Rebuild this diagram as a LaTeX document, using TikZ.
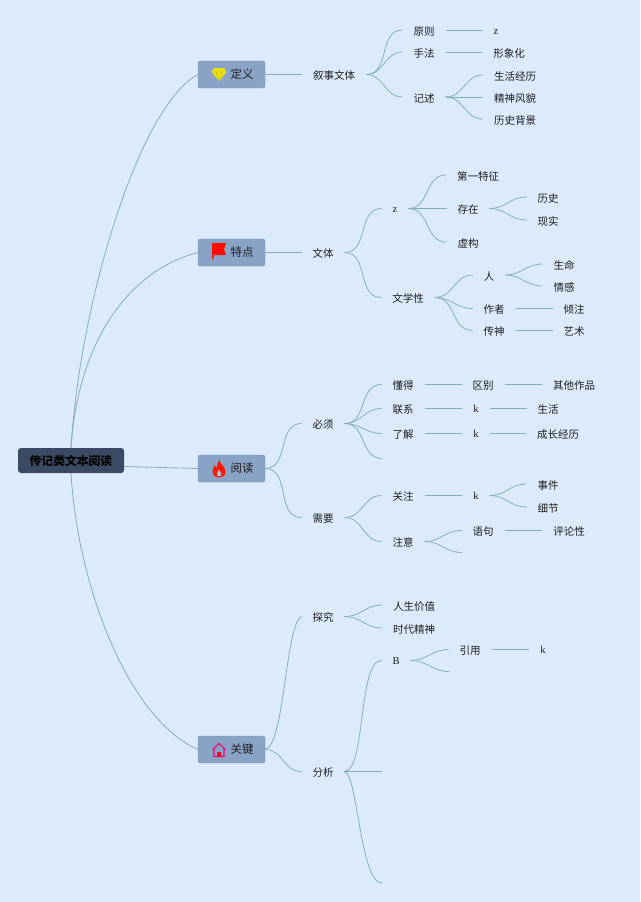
\documentclass[tikz,border=0pt]{standalone}
\usepackage{fontspec}
\setmainfont{Liberation Serif}
\newfontfamily\cjk{Noto Sans CJK SC}
\definecolor{bgc}{HTML}{DCEBFC}
\definecolor{linec}{HTML}{85ADBA}
\definecolor{topc}{HTML}{88A3C5}
\definecolor{rootc}{HTML}{3B4A63}
\definecolor{txt}{HTML}{1E1E1E}
\tikzset{
  conn/.style={draw=linec,line width=0.8pt},
  leaf/.style={inner xsep=11pt,inner ysep=0pt,outer sep=0pt,text=txt,text height=11pt,text depth=0.8pt,font=\cjk\fontsize{10.5}{12}\selectfont,anchor=center},
  latin/.style={inner xsep=11pt,inner ysep=0pt,outer sep=0pt,text=txt,text height=8pt,text depth=0pt,font=\fontsize{10.5}{12}\selectfont,anchor=center},
  topic/.style={rectangle,rounded corners=2pt,fill=topc,draw=topc!92!black,line width=0.3pt,minimum width=67pt,minimum height=27pt,inner sep=0pt,outer sep=0pt,text=txt,font=\cjk\fontsize{11.5}{13}\selectfont},
  rootbox/.style={rectangle,rounded corners=3pt,fill=rootc,minimum width=106pt,minimum height=25pt,inner sep=0pt,outer sep=0pt,text=black,font=\cjk\bfseries\fontsize{11.8}{13}\selectfont},
  fan/.style={conn,out=0,in=180,looseness=1.1}
}
\newcommand{\fanlink}[2]{\draw[fan] (#1.east) to (#2.west);}
\begin{document}
\begin{tikzpicture}[x=1pt,y=-1pt]
\useasboundingbox (0,0) rectangle (640,902);
\fill[bgc] (0,0) rectangle (640,902);
% root and topics
\node[rootbox] (root) at (71,460.5) {传记类文本阅读};
\node[topic] (t1) at (231.5,74.5) {\hspace{21pt}定义};
\node[topic] (t2) at (231.5,252.5) {\hspace{21pt}特点};
\node[topic] (t3) at (231.5,468.5) {\hspace{21pt}阅读};
\node[topic] (t4) at (231.5,749.5) {\hspace{21pt}关键};
% level 2
\node[leaf] (a) at (334,74.5) {叙事文体};
\node[leaf] (b) at (323,252.5) {文体};
\node[leaf] (c1) at (323,423.5) {必须};
\node[leaf] (c2) at (323,517.5) {需要};
\node[leaf] (d1) at (323,616.5) {探究};
\node[leaf] (d2) at (323,771.5) {分析};
% definition branch
\node[leaf] (a1) at (424,30) {原则};
\node[latin] (a1x) at (496,30) {z};
\node[leaf] (a2) at (424,52) {手法};
\node[leaf] (a2x) at (509,52) {形象化};
\node[leaf] (a3) at (424,97) {记述};
\node[leaf] (a31) at (515,75) {生活经历};
\node[leaf] (a32) at (515,97) {精神风貌};
\node[leaf] (a33) at (515,119) {历史背景};
% features branch
\node[latin] (b1) at (395,208.5) {z};
\node[leaf] (b11) at (478,175) {第一特征};
\node[leaf] (b12) at (468,208.5) {存在};
\node[leaf] (b121) at (548,197) {历史};
\node[leaf] (b122) at (548,220) {现实};
\node[leaf] (b13) at (468,242) {虚构};
\node[leaf] (b2) at (408,297.5) {文学性};
\node[leaf] (b21) at (489,275) {人};
\node[leaf] (b211) at (564,264) {生命};
\node[leaf] (b212) at (564,286) {情感};
\node[leaf] (b22) at (494,308.5) {作者};
\node[leaf] (b221) at (574,308.5) {倾注};
\node[leaf] (b23) at (494,330.5) {传神};
\node[leaf] (b231) at (574,330.5) {艺术};
% reading branch
\node[leaf] (c11) at (403,384.5) {懂得};
\node[leaf] (c111) at (483,384.5) {区别};
\node[leaf] (c112) at (574,384.5) {其他作品};
\node[leaf] (c12) at (403,408.5) {联系};
\node[latin] (c121) at (476,408.5) {k};
\node[leaf] (c122) at (548,408.5) {生活};
\node[leaf] (c13) at (403,433.5) {了解};
\node[latin] (c131) at (476,433.5) {k};
\node[leaf] (c132) at (558,433.5) {成长经历};
\coordinate (c14) at (382,458.5);
\node[leaf] (c21) at (403,495.5) {关注};
\node[latin] (c211) at (476,495.5) {k};
\node[leaf] (c2111) at (548,484) {事件};
\node[leaf] (c2112) at (548,507) {细节};
\node[leaf] (c22) at (403,541.5) {注意};
\node[leaf] (c221) at (483,530.5) {语句};
\node[leaf] (c222) at (569,530.5) {评论性};
\coordinate (c223) at (462,552.5);
% key branch
\node[leaf] (d11) at (414,605) {人生价值};
\node[leaf] (d12) at (414,628) {时代精神};
\node[latin] (d21) at (396,660.5) {B};
\node[leaf] (d211) at (470,649.5) {引用};
\node[latin] (d212) at (543,649.5) {k};
\coordinate (d213) at (449,671.5);
\coordinate (d22) at (382,771.5);
\coordinate (d23) at (382,883);
% root connectors
\draw[conn] (root.north) .. controls (80,300) and (140,105) .. (t1.west);
\draw[conn] (root.north) .. controls (78,340) and (130,270) .. (t2.west);
\draw[conn] ([yshift=-6pt]root.east) -- (t3.west);
\draw[conn] (root.south) .. controls (78,590) and (130,720) .. (t4.west);
\draw[conn] (t1.east) -- (a.west);
\draw[conn] (t2.east) -- (b.west);
\fanlink{t3}{c1} \fanlink{t3}{c2} \draw[conn] (t4.east) .. controls (285,745) and (285,625) .. (d1.west);
\fanlink{t4}{d2}
% level links
\fanlink{a}{a1} \fanlink{a}{a2} \fanlink{a}{a3}
\draw[conn] (a1.east) -- (a1x.west);
\draw[conn] (a2.east) -- (a2x.west);
\fanlink{a3}{a31} \draw[conn] (a3.east) -- (a32.west); \fanlink{a3}{a33}
\fanlink{b}{b1} \fanlink{b}{b2}
\fanlink{b1}{b11} \draw[conn] (b1.east) -- (b12.west); \fanlink{b1}{b13}
\fanlink{b12}{b121} \fanlink{b12}{b122}
\fanlink{b2}{b21} \fanlink{b2}{b22} \fanlink{b2}{b23}
\fanlink{b21}{b211} \fanlink{b21}{b212}
\draw[conn] (b22.east) -- (b221.west);
\draw[conn] (b23.east) -- (b231.west);
\fanlink{c1}{c11} \fanlink{c1}{c12} \fanlink{c1}{c13}
\draw[fan] (c1.east) to (c14);
\draw[conn] (c11.east) -- (c111.west);
\draw[conn] (c111.east) -- (c112.west);
\draw[conn] (c12.east) -- (c121.west);
\draw[conn] (c121.east) -- (c122.west);
\draw[conn] (c13.east) -- (c131.west);
\draw[conn] (c131.east) -- (c132.west);
\fanlink{c2}{c21} \fanlink{c2}{c22}
\draw[conn] (c21.east) -- (c211.west);
\fanlink{c211}{c2111} \fanlink{c211}{c2112}
\fanlink{c22}{c221}
\draw[fan] (c22.east) to (c223);
\draw[conn] (c221.east) -- (c222.west);
\fanlink{d1}{d11} \fanlink{d1}{d12}
\draw[conn] (d2.east) .. controls (366,770) and (358,660) .. (d21.west);
\draw[conn] (d2.east) -- (d22);
\draw[conn] (d2.east) .. controls (358,775) and (360,883) .. (d23);
\fanlink{d21}{d211}
\draw[fan] (d21.east) to (d213);
\draw[conn] (d211.east) -- (d212.west);
% icon: gem
\fill[yellow!80!olive!90!white] (214,68) -- (224,68) -- (226.5,72) -- (219,81) -- (211.5,72) -- cycle;
\draw[olive!60!yellow,line width=0.35pt] (212,72) -- (226,72) (216,72) -- (219,80) -- (222,72);
% icon: flag
\fill[red!90!orange] (212,243) -- (226,243) -- (224,249.5) -- (226,255) -- (213.5,255) -- (213.5,259) -- (212,259) -- cycle;
% icon: flame
\fill[red!80!orange] (219.5,460) .. controls (220,465) and (225.5,466) .. (225.5,472) .. controls (225.5,476) and (222,477.5) .. (219,477.5) .. controls (215.5,477.5) and (212.5,475) .. (212.5,471.5) .. controls (212.5,468.5) and (214,467) .. (215,465) .. controls (215.5,467) and (216,467.5) .. (216.8,468) .. controls (216.8,465) and (217.5,462) .. (219.5,460) -- cycle;
\fill[topc!70!white] (219,470) .. controls (221,472) and (222,473.5) .. (221,475.5) .. controls (220,477) and (218,477) .. (217,475.5) .. controls (216,473.5) and (217.5,472) .. (219,470) -- cycle;
% icon: house
\draw[magenta!75!red,line width=1.1pt,line join=round] (212.5,749.5) -- (219,743.5) -- (225.5,749.5) (214,748.5) -- (214,756.5) -- (224,756.5) -- (224,748.5);
\fill[red!80!magenta] (217,752) rectangle (221,756.5);
\end{tikzpicture}
\end{document}
